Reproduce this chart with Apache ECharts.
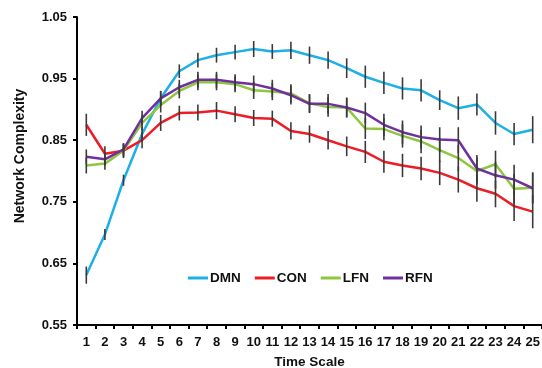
<!DOCTYPE html>
<html>
<head>
<meta charset="utf-8">
<script src="https://cdn.jsdelivr.net/npm/echarts@6/dist/echarts.min.js"></script>
<style>
html,body{margin:0;padding:0;background:#fff;}
#chart{width:542px;height:368px;}
</style>
</head>
<body>
<div id="chart"></div>
<script>
const categories = ['1','2','3','4','5','6','7','8','9','10','11','12','13','14','15','16','17','18','19','20','21','22','23','24','25'];
const seriesNames = ['DMN','CON','LFN','RFN'];
const dmn = [0.631,0.697,0.785,0.860,0.918,0.962,0.980,0.988,0.993,0.998,0.994,0.996,0.988,0.980,0.967,0.953,0.943,0.934,0.931,0.915,0.902,0.908,0.878,0.860,0.867];
const con = [0.875,0.828,0.833,0.850,0.878,0.894,0.895,0.898,0.892,0.886,0.885,0.865,0.860,0.850,0.840,0.831,0.815,0.809,0.804,0.797,0.786,0.772,0.763,0.743,0.734];
const lfn = [0.809,0.812,0.833,0.878,0.907,0.930,0.944,0.944,0.941,0.931,0.929,0.926,0.910,0.904,0.903,0.869,0.868,0.857,0.848,0.834,0.821,0.800,0.811,0.771,0.773];
const rfn = [0.823,0.819,0.835,0.886,0.918,0.936,0.948,0.948,0.944,0.941,0.934,0.923,0.909,0.909,0.903,0.894,0.875,0.863,0.855,0.851,0.850,0.804,0.793,0.786,0.772];
const dmnErr = [0.014,0.009,0.009,0.012,0.012,0.011,0.012,0.012,0.012,0.013,0.012,0.014,0.014,0.014,0.016,0.018,0.018,0.018,0.018,0.016,0.019,0.018,0.019,0.018,0.022];
const conErr = [0.018,0.012,0.012,0.013,0.013,0.012,0.013,0.014,0.013,0.013,0.013,0.014,0.014,0.015,0.016,0.018,0.018,0.019,0.019,0.020,0.021,0.022,0.022,0.024,0.027];
const lfnErr = [0.013,0.010,0.010,0.012,0.012,0.012,0.013,0.013,0.013,0.014,0.014,0.015,0.015,0.016,0.016,0.017,0.018,0.019,0.019,0.020,0.021,0.022,0.022,0.024,0.025];
const rfnErr = [0.012,0.010,0.010,0.012,0.012,0.012,0.013,0.013,0.013,0.014,0.014,0.015,0.015,0.016,0.016,0.017,0.018,0.019,0.019,0.020,0.021,0.022,0.022,0.024,0.025];
const yTicks = ['0.55','0.65','0.75','0.85','0.95','1.05'];

const colors = ['#1CB0E6','#EE1C24','#8DC63F','#7030A0'];
const values = [dmn, con, lfn, rfn];
const errs = [dmnErr, conErr, lfnErr, rfnErr];

const chart = echarts.init(document.getElementById('chart'), null, {renderer:'canvas'});
const fontFam = '"Liberation Sans", Arial, sans-serif';

const lineSeries = seriesNames.map((n, k) => ({
  name: n, type: 'line', data: values[k], symbol: 'none',
  lineStyle: {color: colors[k], width: 2.5}, itemStyle: {color: colors[k]},
  z: 2, animation: false
}));
const errSeries = seriesNames.map((n, k) => ({
  type: 'custom', z: 5, animation: false, silent: true,
  data: values[k].map((v, i) => [i, v - errs[k][i], v + errs[k][i]]),
  encode: {x: 0, y: [1, 2]},
  renderItem: function (params, api) {
    const x = api.value(0);
    const p1 = api.coord([x, api.value(1)]);
    const p2 = api.coord([x, api.value(2)]);
    return {type: 'line', shape: {x1: p1[0], y1: p1[1], x2: p2[0], y2: p2[1]},
      style: {stroke: '#3a3a3a', lineWidth: 1.6}};
  }
}));

chart.setOption({
  animation: false,
  backgroundColor: '#fff',
  grid: {left: 77, right: 0, top: 17, bottom: 43, containLabel: false, outerBoundsMode: 'none'},
  legend: {
    data: seriesNames, left: 183, top: 266, itemWidth: 20, itemHeight: 3, itemGap: 14,
    icon: 'rect',
    textStyle: {fontFamily: fontFam, fontWeight: 'bold', fontSize: 13.5, color: '#111', padding: [0,0,0,-3]}
  },
  xAxis: {
    type: 'category', data: categories, boundaryGap: true,
    name: 'Time Scale', nameLocation: 'middle', nameGap: 30,
    nameTextStyle: {fontFamily: fontFam, fontWeight: 'bold', fontSize: 13.5, color: '#111'},
    axisLine: {lineStyle: {color: '#000', width: 2}},
    axisTick: {show: true, alignWithLabel: false, length: 4, lineStyle: {color: '#000', width: 2}},
    axisLabel: {interval: 0, margin: 11, fontFamily: fontFam, fontWeight: 'bold', fontSize: 13, color: '#111'},
    splitLine: {show: false}
  },
  yAxis: {
    type: 'value', min: 0.55, max: 1.05, interval: 0.1,
    name: 'Network Complexity', nameLocation: 'middle', nameGap: 50, nameRotate: 90,
    nameTextStyle: {fontFamily: fontFam, fontWeight: 'bold', fontSize: 14, color: '#111', padding: [0,0,0,30]},
    axisLine: {show: true, lineStyle: {color: '#000', width: 2}},
    axisTick: {show: true, length: 4, lineStyle: {color: '#000', width: 2}},
    axisLabel: {margin: 10, fontFamily: fontFam, fontWeight: 'bold', fontSize: 13, color: '#111',
      formatter: function (v) {
        const s = v.toFixed(2);
        return yTicks.indexOf(s) >= 0 ? s : '';
      }},
    splitLine: {show: false}
  },
  series: lineSeries.concat(errSeries)
});
</script>
</body>
</html>
